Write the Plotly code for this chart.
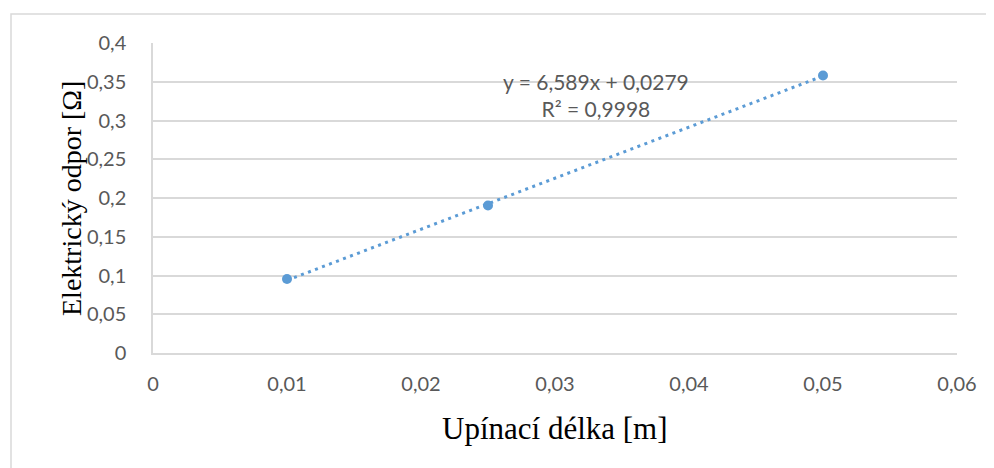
import plotly.graph_objects as go

# Data
lengths_m = [0.01, 0.025, 0.05]
resistance_ohm = [0.0955, 0.1904, 0.358]
fit_slope = 6.589
fit_intercept = 0.0279
fit_r2_text = "R² = 0,9998"
fit_eq_text = "y = 6,589x + 0,0279"

x_ticks = [0, 0.01, 0.02, 0.03, 0.04, 0.05, 0.06]
x_tick_labels = ["0", "0,01", "0,02", "0,03", "0,04", "0,05", "0,06"]
y_ticks = [0, 0.05, 0.1, 0.15, 0.2, 0.25, 0.3, 0.35, 0.4]
y_tick_labels = ["0", "0,05", "0,1", "0,15", "0,2", "0,25", "0,3", "0,35", "0,4"]

x_title = "Upínací délka [m]"
y_title = "Elektrický odpor [Ω]"

blue = "#5b9bd5"
tick_color = "#595959"
grid_color = "#d9d9d9"

trend_x = [min(lengths_m), max(lengths_m)]
trend_y = [fit_slope * v + fit_intercept for v in trend_x]

fig = go.Figure()
fig.add_trace(go.Scatter(x=trend_x, y=trend_y, mode="lines",
                         line=dict(color=blue, width=3, dash="3px,4.5px"),
                         hoverinfo="skip", showlegend=False))
fig.add_trace(go.Scatter(x=lengths_m, y=resistance_ohm, mode="markers",
                         marker=dict(color=blue, size=10),
                         showlegend=False))

fig.add_annotation(x=0.03306, y=0.333, xref="x", yref="y",
                   text=fit_eq_text + "<br>" + fit_r2_text,
                   showarrow=False, align="center",
                   font=dict(family="Lato, Open Sans, sans-serif", size=21, color=tick_color))

fig.add_annotation(x=0.5, y=-0.242, xref="paper", yref="paper",
                   text=x_title, showarrow=False, xanchor="center", yanchor="middle",
                   font=dict(family="Liberation Serif, serif", size=31, color="#000000"))
fig.add_annotation(x=-0.102, y=0.5, xref="paper", yref="paper",
                   text=y_title, showarrow=False, textangle=-90,
                   xanchor="center", yanchor="middle",
                   font=dict(family="Liberation Serif, serif", size=28, color="#000000"))

fig.update_xaxes(range=[0, 0.06], tickvals=x_ticks, ticktext=x_tick_labels,
                 showgrid=False, zeroline=False, showline=True, linecolor=grid_color,
                 linewidth=1.5, ticks="", ticklabelstandoff=12,
                 tickfont=dict(family="Lato, Open Sans, sans-serif", size=20, color=tick_color))
fig.update_yaxes(range=[0, 0.4], tickvals=y_ticks, ticktext=y_tick_labels,
                 showgrid=True, gridcolor=grid_color, gridwidth=1.5,
                 zeroline=False, showline=True, linecolor=grid_color, linewidth=1.5,
                 ticks="", ticklabelstandoff=21,
                 tickfont=dict(family="Lato, Open Sans, sans-serif", size=20, color=tick_color))

fig.add_shape(type="rect", xref="paper", yref="paper",
              x0=-142 / 804, x1=1.2, y0=-0.5, y1=1 + 29 / 310,
              line=dict(color="#d9d9d9", width=1.5), fillcolor="rgba(0,0,0,0)", layer="below")

fig.update_layout(width=994, height=468, margin=dict(l=145, r=45, t=35, b=123),
                  paper_bgcolor="white", plot_bgcolor="white", showlegend=False)

fig.write_html("out.html")
